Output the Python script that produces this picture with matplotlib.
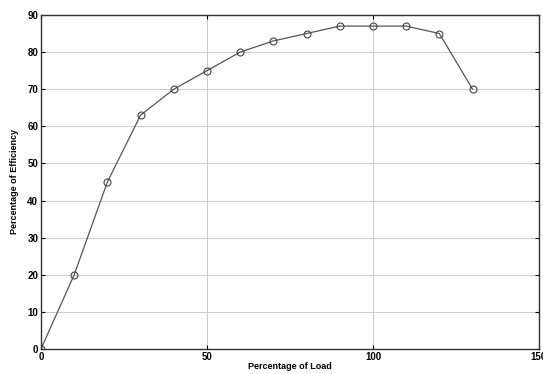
import matplotlib
matplotlib.use("Agg")
import matplotlib.pyplot as plt

load = [0, 10, 20, 30, 40, 50, 60, 70, 80, 90, 100, 110, 120, 130]
efficiency = [0, 20, 45, 63, 70, 75, 80, 83, 85, 87, 87, 87, 85, 70]
xticks = [0, 50, 100, 150]
yticks = [0, 10, 20, 30, 40, 50, 60, 70, 80, 90]

plt.rcParams['font.family'] = ['Liberation Sans', 'DejaVu Sans']

fig = plt.figure(figsize=(5.43, 3.74), dpi=100)
ax = fig.add_axes([0.0755, 0.067, 0.917, 0.893])

ax.plot(load, efficiency, color='#555555', linewidth=0.9, marker='o',
        markersize=5, markerfacecolor='none', markeredgecolor='#444444', markeredgewidth=0.8)

ax.set_xlim(0, 150)
ax.set_ylim(0, 90)
ax.set_xticks(xticks)
ax.set_yticks(yticks)
ax.grid(True, color='#cccccc', linewidth=0.7)
ax.tick_params(direction='in', labelsize=7, length=3, width=0.8, top=True, right=True, pad=2)
for lbl in ax.get_xticklabels() + ax.get_yticklabels():
    lbl.set_fontweight('bold')
for s in ax.spines.values():
    s.set_linewidth(1.0)
    s.set_color('#333333')

ax.set_xlabel("Percentage of Load", fontsize=6.5, fontweight='bold', labelpad=0)
ax.set_ylabel("Percentage of Efficiency", fontsize=6.5, fontweight='bold', labelpad=6)

fig.savefig("out.png", dpi=100)
